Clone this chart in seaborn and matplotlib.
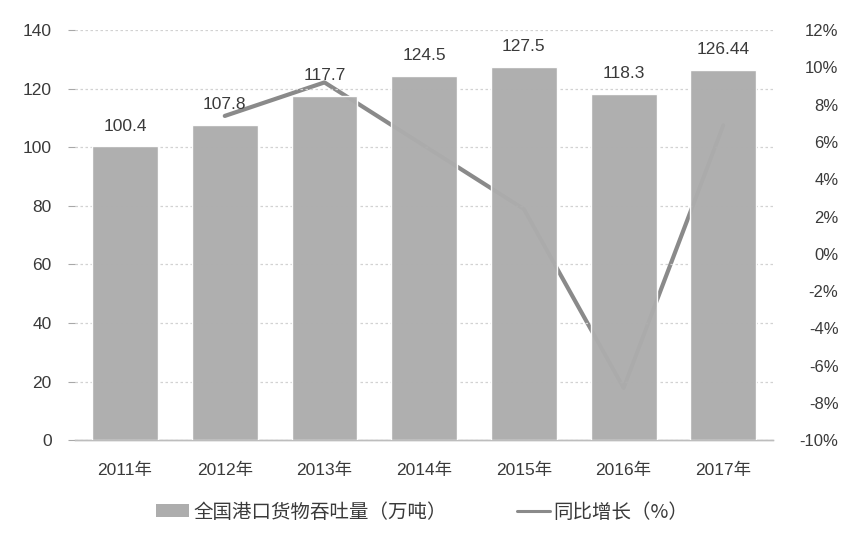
import numpy as np
import pandas as pd
import matplotlib
matplotlib.use("Agg")
import matplotlib.pyplot as plt
from matplotlib.patches import Patch
from matplotlib.lines import Line2D
from matplotlib.ticker import FuncFormatter
import seaborn as sns

# Data
years = ["2011年", "2012年", "2013年", "2014年", "2015年", "2016年", "2017年"]
throughput = [100.4, 107.8, 117.7, 124.5, 127.5, 118.3, 126.44]   # 万吨
growth = [np.nan, 7.4, 9.2, 5.8, 2.4, -7.2, 6.9]                   # %
bar_labels = ["100.4", "107.8", "117.7", "124.5", "127.5", "118.3", "126.44"]

sns.set_theme(style="white")
plt.rcParams["font.family"] = ["Liberation Sans", "Noto Sans CJK SC", "DejaVu Sans"]

text_color = "#3a3a3a"
bar_color = "#adadad"
line_color = "#8a8a8a"

fig = plt.figure(figsize=(8.45, 5.4), dpi=100)
ax = fig.add_axes([0.089, 0.185, 0.826, 0.759])
ax2 = ax.twinx()

df = pd.DataFrame({"year": years, "value": throughput,
                   "pos": np.arange(len(years)), "growth": growth})

# Growth line sits behind the bars
sns.lineplot(data=df.dropna(), x="pos", y="growth", ax=ax2,
             color=line_color, linewidth=3.0, zorder=1)
ax.set_zorder(ax2.get_zorder() + 1)
ax.patch.set_visible(False)

sns.barplot(data=df, x="year", y="value", ax=ax, color=bar_color,
            width=0.66, saturation=1, alpha=0.97, zorder=3)

for p, lab in zip(ax.patches, bar_labels):
    ax.annotate(lab, (p.get_x() + p.get_width() / 2, p.get_height()),
                xytext=(0, 9), textcoords="offset points",
                ha="center", va="bottom", fontsize=12.5, color=text_color)

# Left axis
ax.set_xlim(-0.5, 6.5)
ax.set_ylim(0, 140)
ax.set_yticks(np.arange(0, 141, 20))
ax.yaxis.grid(True, linestyle=(0, (2, 2)), color="#d2d2d2", linewidth=0.9)
ax.set_axisbelow(True)
ax.set_xlabel("")
ax.set_ylabel("")
ax.tick_params(axis="y", left=True, length=5, width=0.8, color="#a8a8a8",
               pad=12, labelsize=12.5, labelcolor=text_color)
ax.tick_params(axis="x", bottom=False, pad=10, labelsize=12.5,
               labelcolor=text_color)
for lab in ax.get_xticklabels():
    lab.set_fontfamily(["Liberation Sans", "Noto Sans CJK SC"])

# Right axis, labels right-aligned near the figure edge
ax2.set_ylim(-10, 12)
ax2.set_yticks(np.arange(-10, 13, 2))
ax2.yaxis.set_major_formatter(FuncFormatter(lambda v, _: f"{v:.0f}%"))
ax2.set_ylabel("")
ax2.set_xlabel("")
ax2.grid(False)
ax2.tick_params(axis="y", right=False, pad=41, labelsize=12,
                labelcolor=text_color)
for lab in ax2.get_yticklabels():
    lab.set_horizontalalignment("right")

for a in (ax, ax2):
    for side in ("top", "left", "right"):
        a.spines[side].set_visible(False)
    a.spines["bottom"].set_color("#bdbdbd")
    a.spines["bottom"].set_linewidth(1.0)

handles = [Patch(facecolor=bar_color, edgecolor="none"),
           Line2D([0], [0], color=line_color, linewidth=2.2)]
fig.legend(handles, ["全国港口货物吞吐量（万吨）", "同比增长（%）"],
           loc="lower center", bbox_to_anchor=(0.5, 0.0), ncol=2,
           frameon=False, handlelength=1.7, handleheight=0.6,
           handletextpad=0.2, columnspacing=3.6, labelcolor=text_color,
           prop={"family": ["Noto Sans CJK SC", "DejaVu Sans"], "size": 14})

fig.savefig("out.png", dpi=100, facecolor="white")
